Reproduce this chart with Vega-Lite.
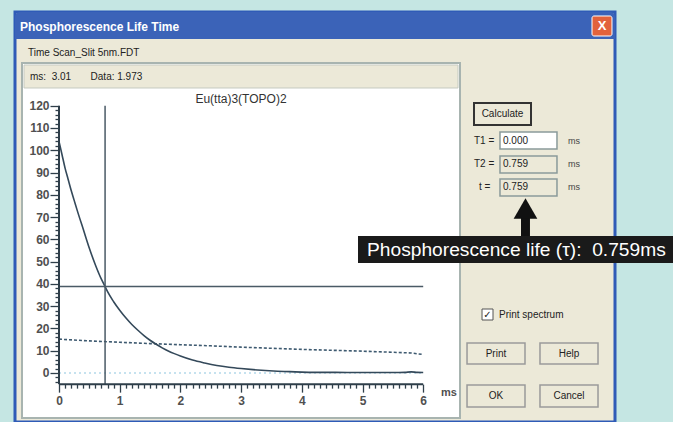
{
  "$schema": "https://vega.github.io/schema/vega-lite/v6.json",
  "width": 673,
  "height": 422,
  "autosize": "none",
  "padding": 0,
  "background": "#c5e6e3",
  "config": {"view": {"stroke": null}, "font": "Liberation Sans"},
  "datasets": {
    "decay": [
      {"t": 0, "v": 104}, {"t": 0.05, "v": 98}, {"t": 0.1, "v": 92}, {"t": 0.15, "v": 87}, {"t": 0.2, "v": 82},
      {"t": 0.25, "v": 77.5}, {"t": 0.3, "v": 73}, {"t": 0.4, "v": 64.5}, {"t": 0.5, "v": 56}, {"t": 0.6, "v": 48.5},
      {"t": 0.7, "v": 42}, {"t": 0.759, "v": 38.8}, {"t": 0.8, "v": 36.5}, {"t": 0.9, "v": 32}, {"t": 1.0, "v": 28.2},
      {"t": 1.1, "v": 24.8}, {"t": 1.2, "v": 21.8}, {"t": 1.3, "v": 19.2}, {"t": 1.4, "v": 16.8}, {"t": 1.5, "v": 14.7},
      {"t": 1.6, "v": 12.9}, {"t": 1.7, "v": 11.3}, {"t": 1.8, "v": 9.9}, {"t": 1.9, "v": 8.7}, {"t": 2.0, "v": 7.6},
      {"t": 2.2, "v": 5.8}, {"t": 2.4, "v": 4.5}, {"t": 2.6, "v": 3.4}, {"t": 2.8, "v": 2.6}, {"t": 3.0, "v": 2.0},
      {"t": 3.2, "v": 1.5}, {"t": 3.4, "v": 1.1}, {"t": 3.6, "v": 0.8}, {"t": 3.8, "v": 0.6}, {"t": 4.0, "v": 0.4},
      {"t": 4.2, "v": 0.3}, {"t": 4.5, "v": 0.3}, {"t": 5.0, "v": 0.2}, {"t": 5.5, "v": 0.2}, {"t": 5.7, "v": 0.3},
      {"t": 5.8, "v": 0.5}, {"t": 5.9, "v": 0.3}, {"t": 6.0, "v": 0.2}
    ],
    "background": [
      {"t": 0, "v": 15.2}, {"t": 0.5, "v": 14.4}, {"t": 1.0, "v": 13.8}, {"t": 1.5, "v": 13.2}, {"t": 2.0, "v": 12.7},
      {"t": 2.5, "v": 12.2}, {"t": 3.0, "v": 11.6}, {"t": 3.5, "v": 11.1}, {"t": 4.0, "v": 10.6}, {"t": 4.5, "v": 10.2},
      {"t": 5.0, "v": 9.8}, {"t": 5.5, "v": 9.3}, {"t": 5.8, "v": 9.0}, {"t": 6.0, "v": 8.3}
    ]
  },
  "data": {"values": [{}]},
  "layer": [
    {"mark": {"type": "rect", "fill": "#ece9d8", "stroke": "#2f5bb7", "strokeWidth": 3, "clip": false},
     "encoding": {"x": {"datum": -0.7249, "type": "quantitative", "scale": {"domain": [-0.972, 10.1153], "nice": false, "zero": false}}, "x2": {"datum": 9.1598},
                  "y": {"datum": 162.07, "type": "quantitative", "scale": {"domain": [-21.998, 167.452], "nice": false, "zero": false}}, "y2": {"datum": -21.99}}},
    {"mark": {"type": "rect", "fill": "#3b63b8", "clip": false, "cornerRadiusTopLeft": 5, "cornerRadiusTopRight": 5},
     "encoding": {"x": {"datum": -0.7249}, "x2": {"datum": 9.1598}, "y": {"datum": 162.07}, "y2": {"datum": 149.94}}},
    {"mark": {"type": "rect", "fill": "#e2623c", "stroke": "#ffffff", "strokeWidth": 1, "cornerRadius": 2, "clip": false},
     "encoding": {"x": {"datum": 8.781}, "x2": {"datum": 9.11}, "y": {"datum": 160.27}, "y2": {"datum": 151.29}}},
    {"mark": {"type": "text", "text": "X", "fontWeight": "bold", "fontSize": 13, "color": "#ffffff", "align": "center", "baseline": "middle"},
     "encoding": {"x": {"datum": 8.946}, "y": {"datum": 155.78}}},
    {"mark": {"type": "text", "text": "Phosphorescence Life Time", "fontWeight": "bold", "fontSize": 12, "color": "#ffffff", "align": "left", "baseline": "middle"},
     "encoding": {"x": {"datum": -0.6425}, "y": {"datum": 155.33}}},
    {"mark": {"type": "text", "text": "Time Scan_Slit 5nm.FDT", "fontSize": 10, "color": "#222222", "align": "left", "baseline": "middle"},
     "encoding": {"x": {"datum": -0.5107}, "y": {"datum": 143.66}}},
    {"mark": {"type": "rect", "fill": "#ffffff", "stroke": "#a8b4b0", "strokeWidth": 2, "clip": false},
     "encoding": {"x": {"datum": -0.6096}, "x2": {"datum": 6.6063}, "y": {"datum": 139.17}, "y2": {"datum": -20.2}}},
    {"mark": {"type": "rect", "fill": "#ece9d8", "stroke": "#c5cac0", "strokeWidth": 1, "clip": false},
     "encoding": {"x": {"datum": -0.5766}, "x2": {"datum": 6.5733}, "y": {"datum": 138.27}, "y2": {"datum": 127.95}}},
    {"mark": {"type": "text", "text": "ms:\u00a0 3.01\u00a0\u00a0\u00a0\u00a0\u00a0\u00a0\u00a0Data:\u00a01.973", "fontSize": 10, "color": "#222222", "align": "left", "baseline": "middle"},
     "encoding": {"x": {"datum": -0.4778}, "y": {"datum": 132.88}}},
    {"mark": {"type": "text", "text": "Eu(tta)3(TOPO)2", "fontSize": 12, "color": "#333333", "align": "center", "baseline": "middle"},
     "encoding": {"x": {"datum": 2.998}, "y": {"datum": 122.9}}},
    {"mark": {"type": "rule", "color": "#8ec5e0", "strokeWidth": 1.2, "strokeDash": [2, 3]},
     "encoding": {"x": {"datum": 0}, "x2": {"datum": 6}, "y": {"datum": 0}}},
    {"data": {"name": "background"},
     "mark": {"type": "line", "color": "#3e5a70", "strokeWidth": 1.6, "strokeDash": [3, 2]},
     "encoding": {"x": {"field": "t", "type": "quantitative"}, "y": {"field": "v", "type": "quantitative"}}},
    {"data": {"name": "decay"},
     "mark": {"type": "line", "color": "#34495a", "strokeWidth": 1.6, "interpolate": "monotone"},
     "encoding": {
       "x": {"field": "t", "type": "quantitative", "title": null,
             "axis": {"zindex": 1, "domain": false, "grid": false, "offset": -37.86, "tickCount": 500,
                      "values": [0,0.1,0.2,0.3,0.4,0.5,0.6,0.7,0.8,0.9,1,1.1,1.2,1.3,1.4,1.5,1.6,1.7,1.8,1.9,2,2.1,2.2,2.3,2.4,2.5,2.6,2.7,2.8,2.9,3,3.1,3.2,3.3,3.4,3.5,3.6,3.7,3.8,3.9,4,4.1,4.2,4.3,4.4,4.5,4.6,4.7,4.8,4.9,5,5.1,5.2,5.3,5.4,5.5,5.6,5.7,5.8,5.9,6],
                      "tickSize": {"condition": {"test": "abs(datum.value - round(datum.value)) < 0.001", "value": 8}, "value": 4},
                      "tickColor": "#2f3f4a", "tickWidth": 1.3,
                      "labelExpr": "abs(datum.value - round(datum.value)) < 0.001 ? format(datum.value, '.0f') : ''",
                      "labelOverlap": false, "labelBound": false, "labelFlush": false, "labelPadding": 3,
                      "labelFont": "Liberation Sans", "labelFontSize": 12, "labelFontWeight": "bold", "labelColor": "#505050"}},
       "y": {"field": "v", "type": "quantitative", "title": null,
             "axis": {"zindex": 1, "domain": false, "grid": false, "offset": -59, "tickCount": 500,
                      "values": [-4,-2,0,2,4,6,8,10,12,14,16,18,20,22,24,26,28,30,32,34,36,38,40,42,44,46,48,50,52,54,56,58,60,62,64,66,68,70,72,74,76,78,80,82,84,86,88,90,92,94,96,98,100,102,104,106,108,110,112,114,116,118,120],
                      "tickSize": {"condition": {"test": "abs(datum.value/10 - round(datum.value/10)) < 0.001", "value": 9}, "value": 4},
                      "tickColor": "#2f3f4a", "tickWidth": 1.3,
                      "labelExpr": "abs(datum.value/10 - round(datum.value/10)) < 0.001 ? format(datum.value, '.0f') : ''",
                      "labelOverlap": false, "labelBound": false, "labelFlush": false, "labelPadding": 1,
                      "labelFont": "Liberation Sans", "labelFontSize": 12, "labelFontWeight": "bold", "labelColor": "#505050"}}}},
    {"mark": {"type": "rule", "color": "#4a5a66", "strokeWidth": 1.5},
     "encoding": {"x": {"datum": 0}, "x2": {"datum": 6}, "y": {"datum": 38.8}}},
    {"mark": {"type": "rule", "color": "#4a5a66", "strokeWidth": 1.5},
     "encoding": {"x": {"datum": 0.759}, "y": {"datum": -5}, "y2": {"datum": 120}}},
    {"mark": {"type": "rule", "color": "#2f3f4a", "strokeWidth": 2},
     "encoding": {"x": {"datum": 0}, "y": {"datum": -5}, "y2": {"datum": 120}}},
    {"mark": {"type": "rule", "color": "#2f3f4a", "strokeWidth": 2},
     "encoding": {"x": {"datum": 0}, "x2": {"datum": 6}, "y": {"datum": -5}}},
    {"mark": {"type": "text", "text": "ms", "fontSize": 11, "fontWeight": "bold", "color": "#505050", "align": "left", "baseline": "middle"},
     "encoding": {"x": {"datum": 6.293}, "y": {"datum": -8.979}}},

    {"mark": {"type": "rect", "fill": "#ece9d8", "stroke": "#333333", "strokeWidth": 2, "clip": false},
     "encoding": {"x": {"datum": 6.837}, "x2": {"datum": 7.776}, "y": {"datum": 121.21}, "y2": {"datum": 111.34}}},
    {"mark": {"type": "text", "text": "Calculate", "fontSize": 10, "color": "#222222", "align": "center", "baseline": "middle"},
     "encoding": {"x": {"datum": 7.306}, "y": {"datum": 116.27}}},

    {"mark": {"type": "text", "text": "T1 =", "fontSize": 10, "color": "#222222", "align": "left", "baseline": "middle"},
     "encoding": {"x": {"datum": 6.837}, "y": {"datum": 104.15}}},
    {"mark": {"type": "rect", "fill": "#ffffff", "stroke": "#8a9a9a", "strokeWidth": 1.5, "clip": false},
     "encoding": {"x": {"datum": 7.265}, "x2": {"datum": 8.204}, "y": {"datum": 108.19}, "y2": {"datum": 100.56}}},
    {"mark": {"type": "text", "text": "0.000", "fontSize": 10, "color": "#222222", "align": "left", "baseline": "middle"},
     "encoding": {"x": {"datum": 7.315}, "y": {"datum": 104.15}}},
    {"mark": {"type": "text", "text": "ms", "fontSize": 9, "color": "#444444", "align": "left", "baseline": "middle"},
     "encoding": {"x": {"datum": 8.385}, "y": {"datum": 104.15}}},

    {"mark": {"type": "text", "text": "T2 =", "fontSize": 10, "color": "#222222", "align": "left", "baseline": "middle"},
     "encoding": {"x": {"datum": 6.837}, "y": {"datum": 93.83}}},
    {"mark": {"type": "rect", "fill": "#ece9d8", "stroke": "#8a9a9a", "strokeWidth": 1.5, "clip": false},
     "encoding": {"x": {"datum": 7.265}, "x2": {"datum": 8.204}, "y": {"datum": 97.42}, "y2": {"datum": 89.79}}},
    {"mark": {"type": "text", "text": "0.759", "fontSize": 10, "color": "#222222", "align": "left", "baseline": "middle"},
     "encoding": {"x": {"datum": 7.315}, "y": {"datum": 93.83}}},
    {"mark": {"type": "text", "text": "ms", "fontSize": 9, "color": "#444444", "align": "left", "baseline": "middle"},
     "encoding": {"x": {"datum": 8.385}, "y": {"datum": 93.83}}},

    {"mark": {"type": "text", "text": "t =", "fontSize": 10, "color": "#222222", "align": "left", "baseline": "middle"},
     "encoding": {"x": {"datum": 6.92}, "y": {"datum": 83.5}}},
    {"mark": {"type": "rect", "fill": "#ece9d8", "stroke": "#8a9a9a", "strokeWidth": 1.5, "clip": false},
     "encoding": {"x": {"datum": 7.265}, "x2": {"datum": 8.204}, "y": {"datum": 87.09}, "y2": {"datum": 79.46}}},
    {"mark": {"type": "text", "text": "0.759", "fontSize": 10, "color": "#222222", "align": "left", "baseline": "middle"},
     "encoding": {"x": {"datum": 7.315}, "y": {"datum": 83.5}}},
    {"mark": {"type": "text", "text": "ms", "fontSize": 9, "color": "#444444", "align": "left", "baseline": "middle"},
     "encoding": {"x": {"datum": 8.385}, "y": {"datum": 83.5}}},

    {"mark": {"type": "rect", "fill": "#111111", "clip": false},
     "encoding": {"x": {"datum": 7.611}, "x2": {"datum": 7.759}, "y": {"datum": 71.5}, "y2": {"datum": 61.5}}},
    {"mark": {"type": "point", "shape": "triangle-up", "size": 560, "filled": true, "color": "#111111", "opacity": 1},
     "encoding": {"x": {"datum": 7.685}, "y": {"datum": 73.85}}},

    {"mark": {"type": "rect", "fill": "#1a1a1a", "clip": false},
     "encoding": {"x": {"datum": 4.926}, "x2": {"datum": 10.1153}, "y": {"datum": 61.5}, "y2": {"datum": 49.38}}},
    {"mark": {"type": "text", "text": "Phosphorescence life (τ): \u00a00.759ms", "fontSize": 19.2, "color": "#ffffff", "align": "left", "baseline": "middle", "font": "Liberation Sans"},
     "encoding": {"x": {"datum": 5.074}, "y": {"datum": 55.2}}},

    {"mark": {"type": "rect", "fill": "#ffffff", "stroke": "#555555", "strokeWidth": 1, "clip": false},
     "encoding": {"x": {"datum": 6.969}, "x2": {"datum": 7.15}, "y": {"datum": 28.73}, "y2": {"datum": 23.79}}},
    {"mark": {"type": "text", "text": "✓", "fontSize": 10, "fontWeight": "bold", "color": "#222222", "align": "center", "baseline": "middle", "font": "DejaVu Sans"},
     "encoding": {"x": {"datum": 7.059}, "y": {"datum": 26.26}}},
    {"mark": {"type": "text", "text": "Print spectrum", "fontSize": 10, "color": "#222222", "align": "left", "baseline": "middle"},
     "encoding": {"x": {"datum": 7.249}, "y": {"datum": 26.04}}},

    {"mark": {"type": "rect", "fill": "#ece9d8", "stroke": "#9a9a9a", "strokeWidth": 1.5, "clip": false},
     "encoding": {"x": {"datum": 6.722}, "x2": {"datum": 7.677}, "y": {"datum": 13.47}, "y2": {"datum": 4.04}}},
    {"mark": {"type": "text", "text": "Print", "fontSize": 10, "color": "#222222", "align": "center", "baseline": "middle"},
     "encoding": {"x": {"datum": 7.199}, "y": {"datum": 8.75}}},
    {"mark": {"type": "rect", "fill": "#ece9d8", "stroke": "#9a9a9a", "strokeWidth": 1.5, "clip": false},
     "encoding": {"x": {"datum": 7.924}, "x2": {"datum": 8.88}, "y": {"datum": 13.47}, "y2": {"datum": 4.04}}},
    {"mark": {"type": "text", "text": "Help", "fontSize": 10, "color": "#222222", "align": "center", "baseline": "middle"},
     "encoding": {"x": {"datum": 8.402}, "y": {"datum": 8.75}}},
    {"mark": {"type": "rect", "fill": "#ece9d8", "stroke": "#9a9a9a", "strokeWidth": 1.5, "clip": false},
     "encoding": {"x": {"datum": 6.722}, "x2": {"datum": 7.677}, "y": {"datum": -5.387}, "y2": {"datum": -15.26}}},
    {"mark": {"type": "text", "text": "OK", "fontSize": 10, "color": "#222222", "align": "center", "baseline": "middle"},
     "encoding": {"x": {"datum": 7.199}, "y": {"datum": -10.33}}},
    {"mark": {"type": "rect", "fill": "#ece9d8", "stroke": "#9a9a9a", "strokeWidth": 1.5, "clip": false},
     "encoding": {"x": {"datum": 7.924}, "x2": {"datum": 8.88}, "y": {"datum": -5.387}, "y2": {"datum": -15.26}}},
    {"mark": {"type": "text", "text": "Cancel", "fontSize": 10, "color": "#222222", "align": "center", "baseline": "middle"},
     "encoding": {"x": {"datum": 8.402}, "y": {"datum": -10.33}}}
  ]
}
